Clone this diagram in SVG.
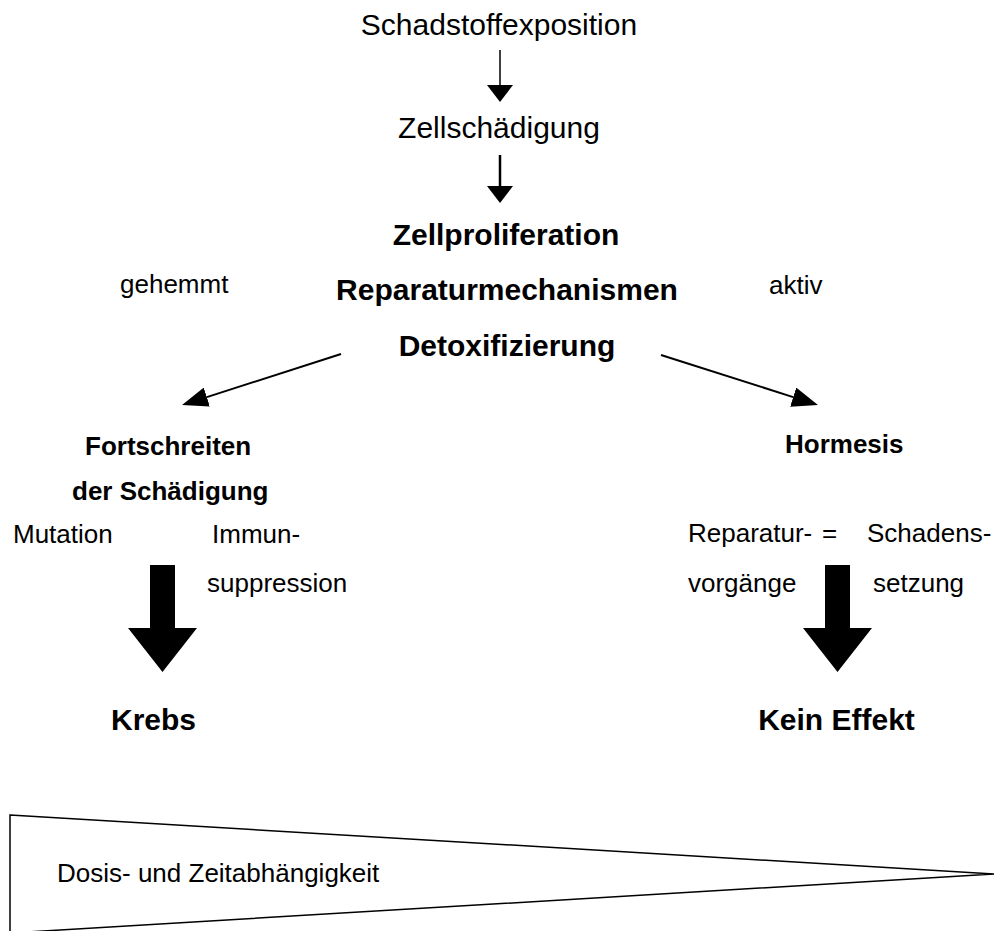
<svg xmlns="http://www.w3.org/2000/svg" width="997" height="931" viewBox="0 0 997 931">
<style>
text{font-family:"Liberation Sans",Arial,sans-serif;fill:#000}
.t30{font-size:30px}
.b30{font-size:30px;font-weight:bold}
.t26{font-size:26px}
.b26{font-size:26px;font-weight:bold}
.mid{text-anchor:middle}
.ln{stroke:#000;fill:none}
</style>
<defs>
<marker id="hv" markerUnits="userSpaceOnUse" markerWidth="18" markerHeight="26" refX="0" refY="13" orient="auto" viewBox="0 0 18 26">
<path d="M0,0 L17,13 L0,26 Z" fill="#000"/>
</marker>
<marker id="hd" markerUnits="userSpaceOnUse" markerWidth="27" markerHeight="20" refX="0" refY="10" orient="auto" viewBox="0 0 27 20">
<path d="M0,0 L26,10 L0,20 Z" fill="#000"/>
</marker>
</defs>
<rect width="997" height="931" fill="#fff"/>
<g id="connectors">
<line class="ln" x1="500" y1="50" x2="500" y2="85" stroke-width="1.5" marker-end="url(#hv)"/>
<line class="ln" x1="500" y1="155" x2="500" y2="186" stroke-width="2.5" marker-end="url(#hv)"/>
<line class="ln" x1="341" y1="354" x2="206.8" y2="397.1" stroke-width="2" marker-end="url(#hd)"/>
<line class="ln" x1="661" y1="355" x2="793.2" y2="397.1" stroke-width="2" marker-end="url(#hd)"/>
<polygon points="150,565 175,565 175,628 197,628 162.5,672 128,628 150,628" fill="#000"/>
<polygon points="825,565 850,565 850,628 872,628 837.5,672 803,628 825,628" fill="#000"/>
</g>
<g id="n-exposition"><text class="t30 mid" x="499" y="35">Schadstoffexposition</text></g>
<g id="n-zellschaedigung"><text class="t30 mid" x="499" y="138">Zellschädigung</text></g>
<g id="n-mechanismen">
<text class="b30 mid" x="506" y="245">Zellproliferation</text>
<text class="b30 mid" x="507" y="300">Reparaturmechanismen</text>
<text class="b30 mid" x="507" y="356">Detoxifizierung</text>
</g>
<g id="l-gehemmt"><text class="t26" x="120" y="293">gehemmt</text></g>
<g id="l-aktiv"><text class="t26" x="769" y="294">aktiv</text></g>
<g id="n-fortschreiten">
<text class="b26" x="85" y="455">Fortschreiten</text>
<text class="b26" x="72" y="500">der Schädigung</text>
</g>
<g id="l-mutation"><text class="t26" x="13" y="543">Mutation</text></g>
<g id="l-immun">
<text class="t26" x="212" y="543">Immun-</text>
<text class="t26" x="207" y="592">suppression</text>
</g>
<g id="n-krebs"><text class="b30 mid" x="153.5" y="730">Krebs</text></g>
<g id="n-hormesis"><text class="b26" x="785" y="453">Hormesis</text></g>
<g id="l-reparatur">
<text class="t26" x="688" y="542">Reparatur-</text>
<text class="t26" x="688" y="592">vorgänge</text>
</g>
<g id="l-gleich"><text class="t26" x="822" y="542">=</text></g>
<g id="l-schaden">
<text class="t26" x="867" y="542">Schadens-</text>
<text class="t26" x="873" y="592">setzung</text>
</g>
<g id="n-keineffekt"><text class="b30 mid" x="836.5" y="730">Kein Effekt</text></g>
<g id="n-dosis">
<polygon class="ln" points="10,815 994,874 10,933" stroke-width="1.5"/>
<text class="t26" x="57" y="882">Dosis- und Zeitabhängigkeit</text>
</g>
</svg>
